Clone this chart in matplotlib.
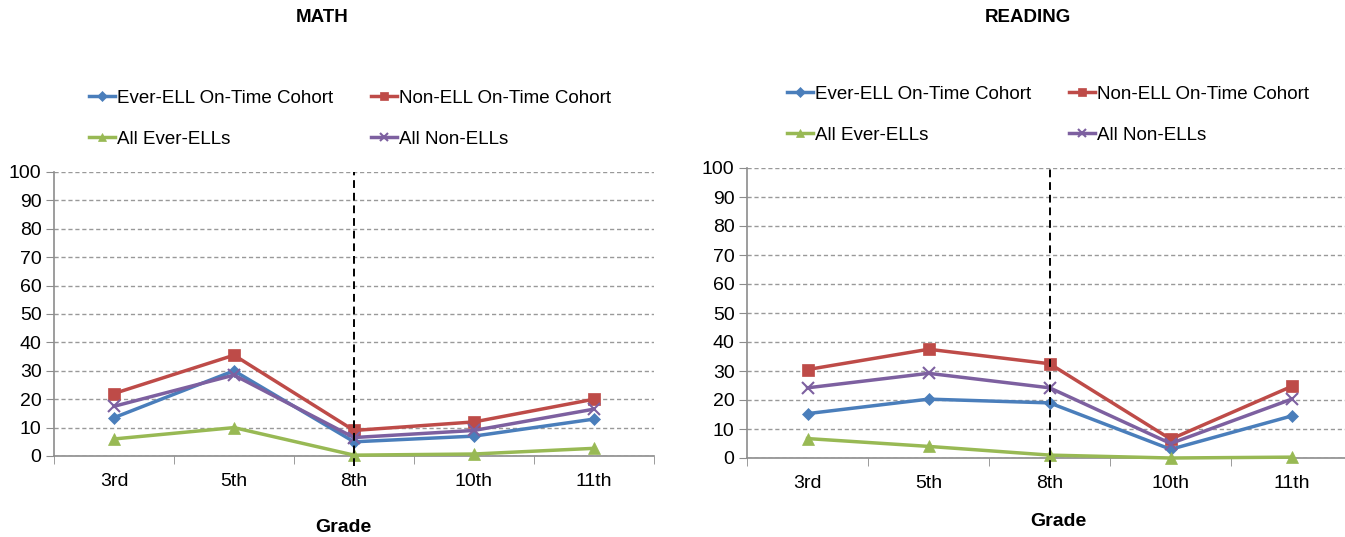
import numpy as np
import matplotlib
matplotlib.use('Agg')
import matplotlib.pyplot as plt
from matplotlib.ticker import FixedLocator

plt.rcParams['font.family'] = ['Liberation Sans', 'DejaVu Sans']

grades = ['3rd', '5th', '8th', '10th', '11th']
series_names = ['Ever-ELL On-Time Cohort', 'Non-ELL On-Time Cohort', 'All Ever-ELLs', 'All Non-ELLs']

# Math values (percent)
math_ever_cohort = [13.5, 30.0, 5.0, 7.0, 13.0]
math_non_cohort = [22.0, 35.5, 9.0, 12.0, 20.0]
math_all_ever = [6.0, 10.0, 0.3, 0.7, 2.7]
math_all_non = [17.5, 28.5, 6.5, 9.0, 16.5]

# Reading values (percent)
read_ever_cohort = [15.3, 20.3, 19.0, 3.0, 14.5]
read_non_cohort = [30.5, 37.5, 32.5, 6.5, 24.7]
read_all_ever = [6.7, 4.0, 1.0, 0.0, 0.3]
read_all_non = [24.2, 29.2, 24.2, 5.0, 20.3]

colors = ['#4A7EBB', '#BE4B48', '#98B954', '#7D60A0']
markers = ['D', 's', '^', 'x']
msizes = [6, 8, 8, 8]

fig = plt.figure(figsize=(13.45, 5.37), dpi=100)


def draw_panel(rect, title, data, title_xy, grade_xy, legend_anchor, xmax):
    ax = fig.add_axes(rect)
    x = np.arange(len(grades))
    handles = []
    for vals, c, m, ms, name in zip(data, colors, markers, msizes, series_names):
        h, = ax.plot(x, vals, color=c, marker=m, markersize=ms, linewidth=2.5,
                     markeredgewidth=1.5 if m == 'x' else 0.5, label=name,
                     clip_on=False, zorder=3)
        handles.append(h)
    ax.axvline(2, ymin=-0.035, ymax=1, color='black', linestyle=(0, (4, 2.5)),
               linewidth=1.4, clip_on=False, zorder=4)
    ax.set_ylim(0, 100)
    ax.set_xlim(-0.5, xmax)
    ax.set_yticks(range(0, 101, 10))
    ax.set_xticks(x)
    ax.set_xticklabels(grades)
    ax.xaxis.set_minor_locator(FixedLocator(np.arange(-0.5, 4.6, 1.0)))
    ax.tick_params(axis='x', which='major', length=0, pad=12, labelsize=14)
    ax.tick_params(axis='x', which='minor', length=6, color='#8c8c8c', direction='out')
    ax.tick_params(axis='y', length=6, color='#8c8c8c', labelsize=14, pad=3)
    ax.yaxis.grid(True, color='#999999', linestyle=(0, (3, 2)), linewidth=1)
    ax.set_axisbelow(True)
    for s in ['top', 'right']:
        ax.spines[s].set_visible(False)
    for s in ['left', 'bottom']:
        ax.spines[s].set_color('#8c8c8c')
        ax.spines[s].set_linewidth(1.2)
    fig.text(title_xy[0], title_xy[1], title, fontsize=13.5, fontweight='bold',
             ha='center', va='center')
    fig.text(grade_xy[0], grade_xy[1], 'Grade', fontsize=14, fontweight='bold',
             ha='center', va='center')
    order = [0, 2, 1, 3]
    fig.legend([handles[i] for i in order], [series_names[i] for i in order],
               ncol=2, frameon=False, fontsize=13.5, loc='upper left',
               bbox_to_anchor=legend_anchor, handlelength=1.4, handletextpad=0.1,
               columnspacing=2.0, labelspacing=1.25, markerscale=0.8)
    return ax


draw_panel([54 / 1345, 81 / 537, 600 / 1345, 284 / 537], 'MATH',
           [math_ever_cohort, math_non_cohort, math_all_ever, math_all_non],
           (322 / 1345, 1 - 18 / 537), (343 / 1345, 1 - 528 / 537),
           (72 / 1345, 1 - 73 / 537), 4.5)

draw_panel([747 / 1345, 79 / 537, 598 / 1345, 290 / 537], 'READING',
           [read_ever_cohort, read_non_cohort, read_all_ever, read_all_non],
           (1028 / 1345, 1 - 18 / 537), (1058 / 1345, 1 - 522 / 537),
           (770 / 1345, 1 - 69 / 537), 4.44)

fig.savefig('out.png', dpi=100)
